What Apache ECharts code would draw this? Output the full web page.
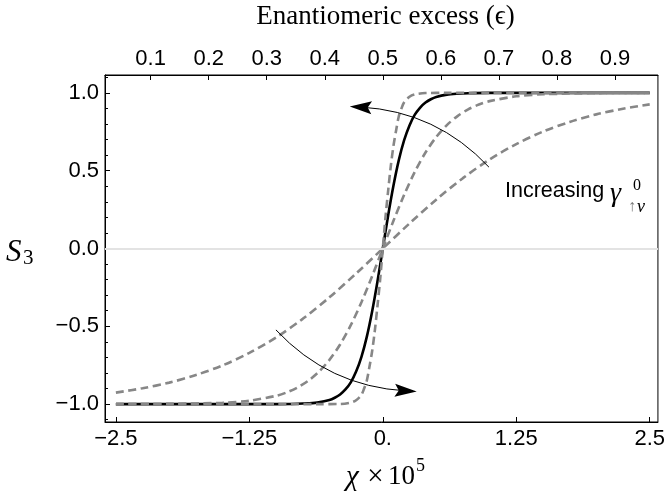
<!DOCTYPE html>
<html>
<head>
<meta charset="utf-8">
<script src="https://cdn.jsdelivr.net/npm/echarts@6/dist/echarts.min.js"></script>
<style>html,body{margin:0;padding:0;background:#fff}#c{width:668px;height:491px}</style>
</head>
<body>
<div id="c"></div>
<script>
// ---- data ----
const xTicks = [-2.5, -1.25, 0, 1.25, 2.5];
const topTicks = [0.1, 0.2, 0.3, 0.4, 0.5, 0.6, 0.7, 0.8, 0.9];
const yTicks = [-1, -0.5, 0, 0.5, 1];
const yMinorTicks = [-1.1, -0.9, -0.8, -0.7, -0.6, -0.4, -0.3, -0.2, -0.1, 0.1, 0.2, 0.3, 0.4, 0.6, 0.7, 0.8, 0.9, 1.1];

// solid black curve
const chiSolid = [-2.5, -2, -1.5, -1.25, -1, -0.8, -0.7, -0.6, -0.5, -0.45, -0.4, -0.35, -0.3, -0.25, -0.2, -0.15, -0.1, -0.05, 0,
                  0.05, 0.1, 0.15, 0.2, 0.25, 0.3, 0.35, 0.4, 0.45, 0.5, 0.6, 0.7, 0.8, 1, 1.25, 1.5, 2, 2.5];
const s3Solid = [-1, -1, -1, -1, -1, -0.998, -0.995, -0.989, -0.974, -0.959, -0.938, -0.906, -0.86, -0.791, -0.696, -0.568, -0.405, -0.212, 0,
                 0.212, 0.405, 0.568, 0.696, 0.791, 0.86, 0.906, 0.938, 0.959, 0.974, 0.989, 0.995, 0.998, 1, 1, 1, 1, 1];

// steepest dashed curve
const chiDashA = [-2.5, -2, -1.5, -1, -0.6, -0.4, -0.3, -0.25, -0.2, -0.175, -0.15, -0.125, -0.1, -0.075, -0.05, -0.025, 0,
                  0.025, 0.05, 0.075, 0.1, 0.125, 0.15, 0.175, 0.2, 0.25, 0.3, 0.4, 0.6, 1, 1.5, 2, 2.5];
const s3DashA = [-1, -1, -1, -1, -1, -0.999, -0.99, -0.975, -0.94, -0.9, -0.85, -0.76, -0.66, -0.53, -0.37, -0.2, 0,
                 0.2, 0.37, 0.53, 0.66, 0.76, 0.85, 0.9, 0.94, 0.975, 0.99, 0.999, 1, 1, 1, 1, 1];

// middle dashed curve
const chiDashB = [-2.5, -2, -1.5, -1.25, -1, -0.9, -0.8, -0.7, -0.6, -0.5, -0.4, -0.3, -0.2, -0.1, 0,
                  0.1, 0.2, 0.3, 0.4, 0.5, 0.6, 0.7, 0.8, 0.9, 1, 1.25, 1.5, 2, 2.5];
const s3DashB = [-1, -0.9985, -0.991, -0.978, -0.947, -0.925, -0.894, -0.851, -0.793, -0.716, -0.617, -0.493, -0.345, -0.178, 0,
                 0.178, 0.345, 0.493, 0.617, 0.716, 0.793, 0.851, 0.894, 0.925, 0.947, 0.978, 0.991, 0.9985, 1];

// flattest dashed curve
const chiDashC = [-2.5, -2.25, -2, -1.75, -1.5, -1.25, -1, -0.75, -0.5, -0.25, 0,
                  0.25, 0.5, 0.75, 1, 1.25, 1.5, 1.75, 2, 2.25, 2.5];
const s3DashC = [-0.926, -0.898, -0.862, -0.813, -0.751, -0.671, -0.572, -0.452, -0.314, -0.161, 0,
                 0.161, 0.314, 0.452, 0.572, 0.671, 0.751, 0.813, 0.862, 0.898, 0.926];

// annotation arrows: [tail, end] in data coordinates
const arrowUpper = [[0.994, 0.523], [-0.207, 0.909]];
const arrowLower = [[-1.001, -0.523], [0.215, -0.915]];

// ---- chart ----
const pairs = (xs, ys) => xs.map((x, i) => [x, ys[i]]);
const SANS = '"Liberation Sans", Arial, sans-serif';
const SERIF = '"Liberation Serif", "Times New Roman", serif';
const MINUS = '\u2212';

const xMin = -2.602, xMax = 2.577;
const topMin = 0.5 + xMin * 0.18396, topMax = 0.5 + xMax * 0.18396;
const yMin = -1.115, yMax = 1.115;

const arrowPath = 'path://M-11,0 M11,0 M0,0 L6.5,22 L0,18 L-6.5,22 Z';

const txt = (x, y, text, font, align, fill) => ({
  type: 'text', x: x, y: y, silent: true,
  style: { text: text, font: font, fill: fill || '#000', textAlign: align || 'left', align: align || 'left',
           textVerticalAlign: 'middle', verticalAlign: 'middle' }
});

const chart = echarts.init(document.getElementById('c'));
chart.setOption({
  animation: false,
  backgroundColor: '#fff',
  grid: { left: 105, right: 4, top: 75, bottom: 69, show: true, borderColor: '#000', borderWidth: 1, backgroundColor: 'transparent' },
  xAxis: [
    {
      type: 'value', position: 'bottom', min: xMin, max: xMax,
      axisLine: { show: true, onZero: false, lineStyle: { color: '#000', width: 1 } },
      axisTick: { show: true, inside: true, length: 5, customValues: xTicks, lineStyle: { color: '#000' } },
      axisLabel: { show: true, customValues: xTicks, margin: 6, color: '#000', fontFamily: SANS, fontSize: 22,
        formatter: v => v === 0 ? '0.' : (v < 0 ? MINUS + Math.abs(v) : String(v)) },
      splitLine: { show: false }
    },
    {
      type: 'value', position: 'top', min: topMin, max: topMax,
      axisLine: { show: true, onZero: false, lineStyle: { color: '#000', width: 1 } },
      axisTick: { show: true, inside: true, length: 5, customValues: topTicks, lineStyle: { color: '#000' } },
      axisLabel: { show: true, customValues: topTicks, margin: 5, color: '#000', fontFamily: SANS, fontSize: 22,
        formatter: v => v.toFixed(1) },
      splitLine: { show: false }
    }
  ],
  yAxis: [
    {
      type: 'value', position: 'left', min: yMin, max: yMax,
      axisLine: { show: true, onZero: false, lineStyle: { color: '#000', width: 1 } },
      axisTick: { show: true, inside: true, length: 5, customValues: yTicks, lineStyle: { color: '#000' } },
      axisLabel: { show: true, customValues: yTicks, margin: 6, color: '#000', fontFamily: SANS, fontSize: 22,
        formatter: v => (v < 0 ? MINUS : '') + Math.abs(v).toFixed(1) },
      splitLine: { show: false }
    },
    {
      type: 'value', position: 'left', min: yMin, max: yMax,
      axisLine: { show: false, onZero: false },
      axisTick: { show: true, inside: true, length: 3, customValues: yMinorTicks, lineStyle: { color: '#000' } },
      axisLabel: { show: false },
      splitLine: { show: false }
    }
  ],
  series: [
    {
      type: 'line', data: [], z: 1, silent: true,
      markLine: {
        silent: true, symbol: ['none', 'none'], label: { show: false },
        lineStyle: { color: '#e3e3e3', width: 2, type: 'solid' },
        data: [{ yAxis: 0 }]
      }
    },
    {
      type: 'line', data: pairs(chiSolid, s3Solid), z: 2, smooth: 0.3,
      showSymbol: false, silent: true, lineStyle: { color: '#000', width: 2.6 }
    },
    {
      type: 'line', data: pairs(chiDashA, s3DashA), z: 3, smooth: 0.3,
      showSymbol: false, silent: true, lineStyle: { color: '#878787', width: 2.6, type: [8, 4.5] }
    },
    {
      type: 'line', data: pairs(chiDashB, s3DashB), z: 3, smooth: 0.3,
      showSymbol: false, silent: true, lineStyle: { color: '#878787', width: 2.6, type: [8, 4.5] }
    },
    {
      type: 'line', data: pairs(chiDashC, s3DashC), z: 3, smooth: 0.3,
      showSymbol: false, silent: true, lineStyle: { color: '#878787', width: 2.6, type: [8, 4.5] }
    },
    {
      type: 'lines', coordinateSystem: 'cartesian2d', z: 5, silent: true,
      symbol: ['none', arrowPath], symbolSize: 22,
      lineStyle: { color: '#000', width: 1, opacity: 1, curveness: -0.2 },
      data: [ { coords: arrowUpper }, { coords: arrowLower } ]
    }
  ],
  graphic: [
    txt(385.5, 17, 'Enantiomeric excess (ϵ)', '27px ' + SERIF, 'center'),
    // x title  χ × 10^5
    txt(346, 477, 'χ', 'italic 29px ' + SERIF),
    txt(375.5, 477, '×', '29px ' + SERIF, 'center'),
    txt(388, 477, '10', '27px ' + SERIF),
    txt(416, 466, '5', '18px ' + SERIF),
    // y title S_3
    txt(6, 253, 'S', 'italic 31px ' + SERIF),
    txt(23, 258, '3', '21px ' + SERIF),
    // annotation "Increasing γ^0_{↑ν}"
    txt(505, 191.5, 'Increasing', '21.5px ' + SANS),
    txt(610, 194, 'γ', 'italic 28px ' + SERIF),
    txt(633, 186, '0', '16px ' + SERIF),
    txt(628, 207, '↑', '16px ' + SERIF, 'left', '#777'),
    txt(637, 207.5, 'ν', 'italic 18px ' + SERIF)
  ]
});
</script>
</body>
</html>
